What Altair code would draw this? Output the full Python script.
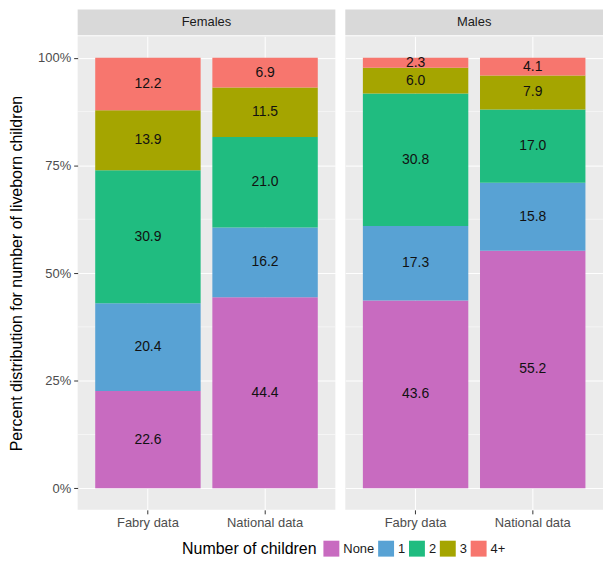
import altair as alt
import pandas as pd

sexes = ["Females", "Males"]
sources = ["Fabry data", "National data"]
groups = ["None", "1", "2", "3", "4+"]
females_fabry = [22.6, 20.4, 30.9, 13.9, 12.2]
females_national = [44.4, 16.2, 21.0, 11.5, 6.9]
males_fabry = [43.6, 17.3, 30.8, 6.0, 2.3]
males_national = [55.2, 15.8, 17.0, 7.9, 4.1]
colors = ["#C86BC0", "#58A2D4", "#20BC80", "#A5A500", "#F7766E"]
major_breaks = [0, 0.25, 0.5, 0.75, 1.0]
minor_breaks = [0.125, 0.375, 0.625, 0.875]

series = {
    ("Females", "Fabry data"): females_fabry,
    ("Females", "National data"): females_national,
    ("Males", "Fabry data"): males_fabry,
    ("Males", "National data"): males_national,
}
rows = []
for (sex, src), vals in series.items():
    for i, (g, v) in enumerate(zip(groups, vals)):
        rows.append({"sex": sex, "source": src, "group": g, "idx": i,
                     "pct": v, "frac": v / 100})
df = pd.DataFrame(rows)

W1, W2, H = 259, 259, 476
FONT = "Liberation Sans"

color = alt.Color("group:N", scale=alt.Scale(domain=groups, range=colors),
                  sort=groups,
                  legend=alt.Legend(title="Number of children", orient="none",
                                    direction="horizontal", legendX=105, legendY=507,
                                    titleOrient="left", titleFontSize=16,
                                    titleFontWeight="normal", titleColor="black",
                                    titleFont=FONT, titlePadding=6,
                                    labelFontSize=13, labelColor="#1A1A1A", labelFont=FONT,
                                    symbolType="square", symbolSize=256,
                                    symbolStrokeWidth=0, symbolOpacity=1,
                                    columnPadding=3, labelOffset=4))

yscale = alt.Scale(domain=[-0.05, 1.05], nice=False, zero=False)


def panel(sex, width, first):
    d = df[df.sex == sex]
    if first:
        yaxis = alt.Axis(values=major_breaks, format=".0%", title="Percent distribution for number of liveborn children",
                         titleFontSize=16, titleFontWeight="normal", titleColor="black",
                         titleFont=FONT, titlePadding=13, labelPadding=3)
    else:
        yaxis = alt.Axis(values=major_breaks, labels=False, ticks=False, title=None)
    xaxis = alt.Axis(title=None, labelAngle=0, bandPosition=0.5, labelPadding=3)
    xscale = alt.Scale(domain=sources, paddingInner=0.1, paddingOuter=0.15)

    minor = alt.Chart(pd.DataFrame({"m": minor_breaks})).mark_rule(
        color="white", strokeWidth=0.5).encode(
        y=alt.Y("m:Q", scale=yscale, axis=yaxis))
    bars = alt.Chart(d).mark_bar().encode(
        x=alt.X("source:N", scale=xscale, axis=xaxis),
        y=alt.Y("frac:Q", stack="zero", scale=yscale, axis=yaxis),
        color=color,
        order=alt.Order("idx:Q"),
    )
    labels = alt.Chart(d).transform_stack(
        stack="frac", groupby=["source"], as_=["y0", "y1"],
        sort=[alt.SortField("idx", order="ascending")]
    ).transform_calculate(mid="(datum.y0 + datum.y1) / 2").mark_text(
        fontSize=14, color="#111111", font=FONT).encode(
        x=alt.X("source:N", scale=xscale, axis=xaxis),
        y=alt.Y("mid:Q", scale=yscale, axis=yaxis),
        text=alt.Text("pct:Q", format=".1f"),
    )
    sdf = pd.DataFrame({"s": [sex]})
    strip = alt.Chart(sdf).mark_rect(color="#D9D9D9").encode(
        x=alt.value(0), x2=alt.value(width), y=alt.value(-27), y2=alt.value(-1))
    strip_text = alt.Chart(sdf).mark_text(fontSize=13, color="#1A1A1A", font=FONT,
                                          baseline="middle").encode(
        x=alt.value(width / 2), y=alt.value(-14), text="s:N")
    return alt.layer(minor, bars, labels, strip, strip_text).properties(width=width, height=H)


chart = alt.hconcat(panel("Females", W1, True), panel("Males", W2, False), spacing=8).properties(
    padding={"left": 0, "top": 0, "right": 0, "bottom": 0}
).configure_view(stroke=None, fill="#EBEBEB").configure_axis(
    domain=False, grid=True, gridColor="white", gridWidth=1,
    tickColor="#333333", tickSize=4, labelColor="#4D4D4D", labelFontSize=13,
    labelFont=FONT,
)

chart.save("out.html", embed_options={"renderer": "svg", "actions": False})
